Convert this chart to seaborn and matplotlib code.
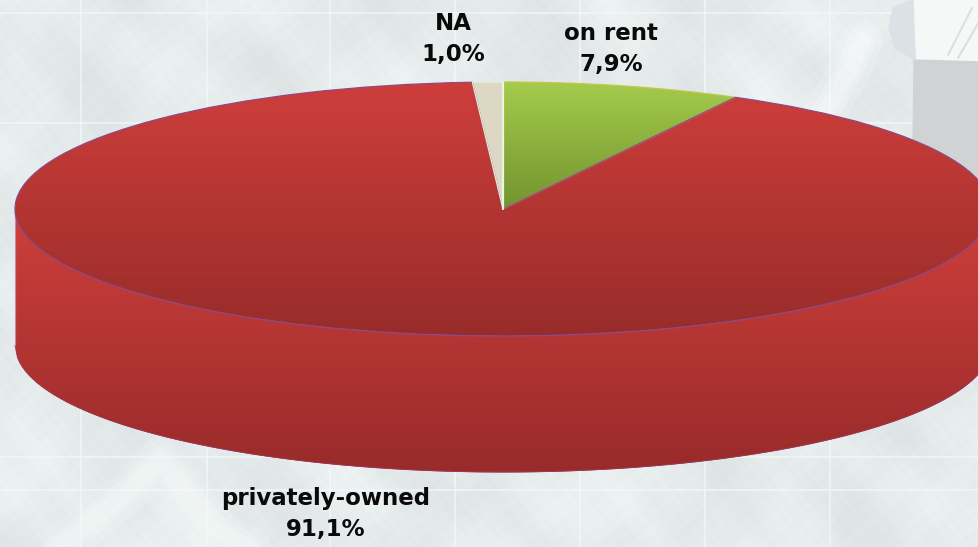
import matplotlib

matplotlib.use("Agg")
import matplotlib.pyplot as plt
import numpy as np
import seaborn as sns
from matplotlib.patches import Polygon

LABELS = ["on rent", "privately-owned", "NA"]
SHARES = [7.9, 91.1, 1.0]
TOP_COLORS = [("#a4cb4c", "#73942e"), ("#ce3e3b", "#982c2a"), ("#dcd8c4", "#dcd8c4")]
EDGE_COLORS = ["#c2c84a", "#8c4a86", "#e4efd8"]
SIDE_COLORS = ("#cf3f3c", "#982b2a")
LABEL_POS = [(611, 49), (326, 514), (453, 39)]

W, H = 979, 547
CX, CY, RX, RY = 503, 209, 488, 127
DEPTH = 136 / RY

sns.set_theme(style="white")
plt.rcParams["font.family"] = ["DejaVu Sans"]


def draw_background(fig):
    ax = fig.add_axes([0, 0, 1, 1])
    yy, xx = np.mgrid[0:H, 0:W]
    # soft mottled paper look, no data in here
    tex = np.zeros(xx.shape)
    for a, b, c, amp in [
        (0.031, 0.017, 0.4, 1.0), (-0.023, 0.041, 1.9, 0.9), (0.071, -0.053, 2.7, 0.4),
        (0.113, 0.089, 0.8, 0.25), (-0.137, 0.101, 4.1, 0.2), (0.29, 0.37, 1.2, 0.2),
        (-0.43, 0.31, 3.3, 0.2), (0.61, -0.57, 5.1, 0.15),
    ]:
        tex += amp * np.sin(a * xx + b * yy + c + 1.3 * np.sin(0.011 * xx - 0.019 * yy + c))
    cmap = sns.blend_palette(["#dde3e4", "#e6ebec", "#eff4f4"], as_cmap=True)
    ax.imshow(tex, cmap=cmap, extent=[0, W, H, 0], aspect="auto", zorder=0)
    for x in [81, 207, 330, 455, 580, 705, 830]:
        ax.axvline(x, color="#f3f8f8", lw=1.2, alpha=0.8, zorder=1)
    for y in [13, 123, 457, 490]:
        ax.axhline(y, color="#f3f8f8", lw=1.2, alpha=0.8, zorder=1)
    ax.add_patch(Polygon([(913, 0), (979, 0), (979, 62), (917, 60)], color="#f6f8f8", zorder=2))
    ax.add_patch(Polygon([(914, 60), (979, 62), (979, 190), (913, 150)], color="#d0d2d3", zorder=2))
    ax.add_patch(Polygon([(893, 8), (913, 0), (915, 60), (895, 48), (889, 28)], color="#dbe2e6", zorder=2))
    ax.plot([948, 972], [55, 8], color="#dcdfdf", lw=1.5, zorder=3)
    ax.plot([958, 979], [58, 22], color="#dcdfdf", lw=1.5, zorder=3)
    for lw, alpha in [(30, 0.2), (20, 0.25), (12, 0.3)]:
        ax.plot([812, 850, 862], [135, 70, 40], color="#fbfefe", lw=lw, alpha=alpha,
                solid_capstyle="round", zorder=2)
        ax.plot([60, 130, 160, 215, 250], [547, 490, 460, 530, 547], color="#f6fbfa", lw=lw,
                alpha=alpha, solid_capstyle="round", zorder=2)
    ax.set_xlim(0, W)
    ax.set_ylim(H, 0)
    ax.axis("off")


def fill_gradient(ax, colors, y_top, y_bottom, clip_path, clip_transform, zorder):
    cmap = sns.blend_palette(colors, as_cmap=True)
    grad = np.linspace(0, 1, 256).reshape(-1, 1)
    im = ax.imshow(grad, cmap=cmap, aspect="auto", extent=[-1.05, 1.05, y_bottom, y_top],
                   origin="upper", zorder=zorder)
    im.set_clip_path(clip_path, clip_transform)


def main():
    fig = plt.figure(figsize=(W / 100, H / 100), dpi=100)
    draw_background(fig)

    ax = fig.add_axes([0, 0, 1, 1])
    ax.patch.set_alpha(0)
    wedges, _ = ax.pie(SHARES, startangle=90, counterclock=False, radius=1,
                       colors=[c[0] for c in TOP_COLORS])

    # body of the disc below the front half of the ellipse
    x = np.linspace(-1, 1, 400)
    front = -np.sqrt(1 - x**2)
    body = ax.fill_between(x, front - DEPTH, front, color=SIDE_COLORS[1], lw=0, zorder=1)
    body_path = body.get_paths()[0]
    fill_gradient(ax, SIDE_COLORS, 0.0, -1 - DEPTH, body_path, ax.transData, 1.5)
    ax.plot(x, front - DEPTH, color="#a0385a", lw=0.6, zorder=2)
    ax.plot([-1, -1], [0, -DEPTH], color="#c98ab0", lw=0.8, zorder=2)

    for wedge, colors, edge in zip(wedges, TOP_COLORS, EDGE_COLORS):
        y_bottom = 0.0 if wedge is not wedges[1] else -1.0
        fill_gradient(ax, colors, 1.0, y_bottom, wedge.get_path(), wedge.get_transform(), 3.5)
        wedge.set_facecolor("none")
        wedge.set_edgecolor(edge)
        wedge.set_linewidth(0.9)
        wedge.set_zorder(4)

    ax.plot([0, 0], [0, 1], color="#eef3e4", lw=1.6, zorder=5)

    ax.set_aspect("auto")
    ax.set_xlim((0 - CX) / RX, (W - CX) / RX)
    ax.set_ylim((CY - H) / RY, CY / RY)
    ax.axis("off")

    for label, share, (px, py) in zip(LABELS, SHARES, LABEL_POS):
        text = f"{label}\n{share:.1f}%".replace(".", ",")
        ax.text((px - CX) / RX, (CY - py) / RY, text, ha="center", va="center",
                fontsize=16.5, fontweight="bold", color="#0a0a0a", linespacing=1.45, zorder=6)

    fig.savefig("out.png", dpi=100)
    plt.close(fig)


if __name__ == "__main__":
    main()
